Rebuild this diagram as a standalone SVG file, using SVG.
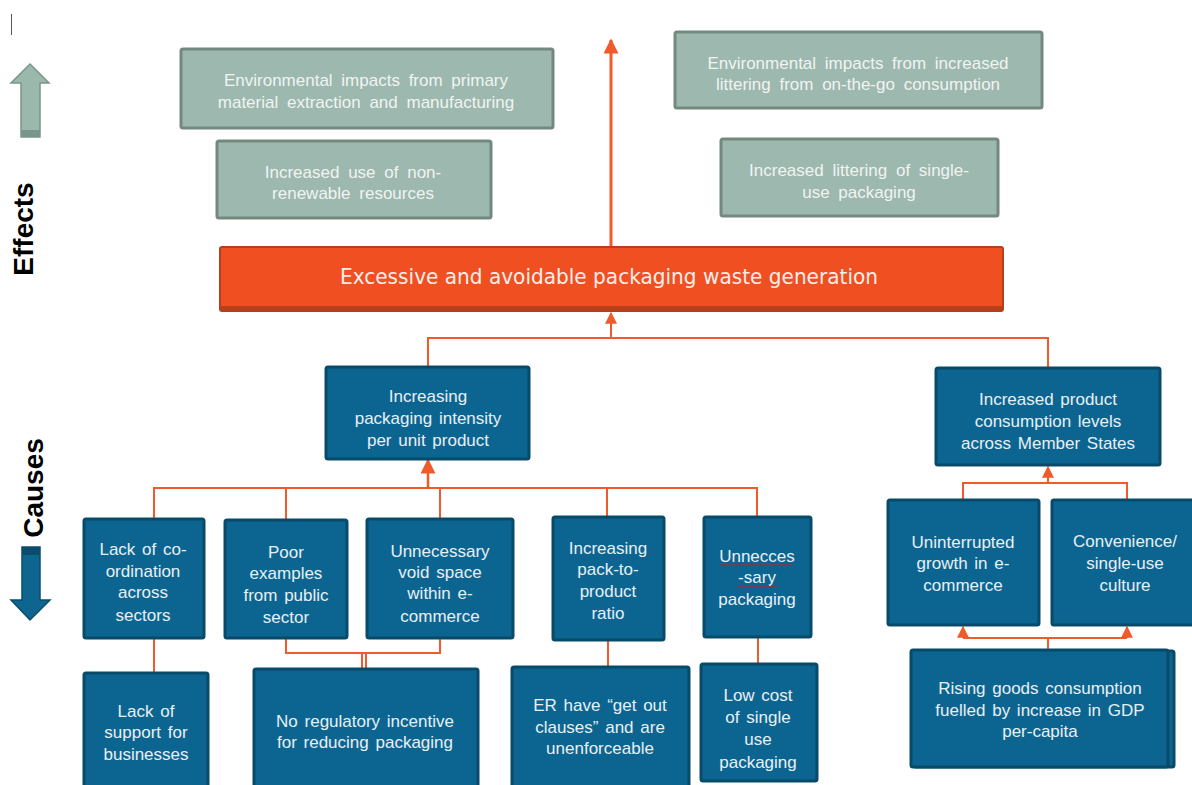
<svg xmlns="http://www.w3.org/2000/svg" width="1192" height="785" viewBox="0 0 1192 785">
<style>
.eff{fill:#9db8ae;stroke:#73897f;stroke-width:3}
.cau{fill:#0c6590;stroke:#084a69;stroke-width:3}
.main{fill:#f04f22;stroke:#b63f1c;stroke-width:2}
.t{font-family:"Liberation Sans",Arial,sans-serif;font-size:17px;text-anchor:middle;word-spacing:2px}
.tg{fill:#f0f4f2;word-spacing:4px}
.tb{fill:#e8f0f5}
.lbl{font-family:"Liberation Sans",Arial,sans-serif;font-size:28px;font-weight:bold;fill:#000;text-anchor:middle}
.con{fill:none;stroke:#f15a2b;stroke-width:2}
.sq{fill:none;stroke:#d01818;stroke-width:1}
</style>
<defs>
<marker id="ah" viewBox="0 0 10 10" refX="9" refY="5" markerWidth="6" markerHeight="6" orient="auto" markerUnits="strokeWidth">
<path d="M0,0 L10,5 L0,10 z" fill="#f15a2b"/>
</marker>
<marker id="ahb" viewBox="0 0 10 10" refX="9" refY="5" markerWidth="5" markerHeight="5" orient="auto" markerUnits="strokeWidth">
<path d="M0,0 L10,5 L0,10 z" fill="#f15a2b"/>
</marker>
</defs>
<rect width="1192" height="785" fill="#fff"/>
<line x1="11.5" y1="14" x2="11.5" y2="35" stroke="#555" stroke-width="1"/>

<g id="effects-label">
<path d="M30,64 L49,83 L40,83 L40,137 L21,137 L21,83 L11,83 z" fill="#9ab8ac" stroke="#7a958b" stroke-width="1.5"/>
<rect x="21" y="130" width="19" height="7" fill="#7a958b"/>
<text class="lbl" transform="translate(33,229) rotate(-90)">Effects</text>
</g>
<g id="causes-label">
<path d="M22,547 L40,547 L40,600 L50,600 L30,620 L11,600 L22,600 z" fill="#0e6690" stroke="#0a4c6c" stroke-width="1.5"/>
<rect x="22" y="547" width="18" height="8" fill="#0a4c6c"/>
<text class="lbl" transform="translate(43,488) rotate(-90)">Causes</text>
</g>

<g id="connectors">
<line class="con" x1="611" y1="246" x2="611" y2="40" style="stroke-width:3" marker-end="url(#ahb)"/>
<polyline class="con" points="428,366 428,338 1048,338 1048,368"/>
<line class="con" x1="611" y1="338" x2="611" y2="313" marker-end="url(#ah)"/>
<polyline class="con" points="154,518 154,488 757,488 757,516"/>
<line class="con" x1="286" y1="488" x2="286" y2="520"/>
<line class="con" x1="440" y1="488" x2="440" y2="518"/>
<line class="con" x1="607" y1="488" x2="607" y2="516"/>
<line class="con" x1="428" y1="488" x2="428" y2="460" style="stroke-width:2.5" marker-end="url(#ah)"/>
<line class="con" x1="154" y1="638" x2="154" y2="672"/>
<polyline class="con" points="286,638 286,653 440,653 440,638"/>
<line class="con" x1="362" y1="653" x2="362" y2="668"/>
<line class="con" x1="366" y1="653" x2="366" y2="668"/>
<line class="con" x1="608" y1="641" x2="608" y2="666"/>
<line class="con" x1="758" y1="637" x2="758" y2="663"/>
<polyline class="con" points="963,499 963,483 1127,483 1127,499"/>
<line class="con" x1="1048" y1="483" x2="1048" y2="467" marker-end="url(#ah)"/>
<line class="con" x1="1048" y1="650" x2="1048" y2="638"/>
<line class="con" x1="963" y1="638" x2="1127" y2="638"/>
<line class="con" x1="963" y1="638" x2="963" y2="627" marker-end="url(#ah)"/>
<line class="con" x1="1127" y1="638" x2="1127" y2="627" marker-end="url(#ah)"/>
</g>

<g id="e1">
<rect class="eff" x="181" y="49" width="372" height="79" rx="2"/>
<text class="t tg" x="366" y="86">Environmental impacts from primary</text>
<text class="t tg" x="366" y="108">material extraction and manufacturing</text>
</g>
<g id="e2">
<rect class="eff" x="217" y="141" width="274" height="77" rx="2"/>
<text class="t tg" x="353" y="178">Increased use of non-</text>
<text class="t tg" x="353" y="199">renewable resources</text>
</g>
<g id="e3">
<rect class="eff" x="675" y="32" width="367" height="76" rx="2"/>
<text class="t tg" x="858" y="69">Environmental impacts from increased</text>
<text class="t tg" x="858" y="90">littering from on-the-go consumption</text>
</g>
<g id="e4">
<rect class="eff" x="721" y="139" width="277" height="77" rx="2"/>
<text class="t tg" x="859" y="176">Increased littering of single-</text>
<text class="t tg" x="859" y="198">use packaging</text>
</g>

<g id="main">
<rect class="main" x="220" y="247" width="783" height="64" rx="2"/>
<rect x="221" y="306" width="781" height="5" fill="#b63f1c"/>
<text x="609" y="284" font-family="'DejaVu Sans',sans-serif" font-size="21" fill="#fbeee8" text-anchor="middle" textLength="538" lengthAdjust="spacingAndGlyphs">Excessive and avoidable packaging waste generation</text>
</g>

<g id="c-intensity">
<rect class="cau" x="326" y="367" width="203" height="92" rx="2"/>
<text class="t tb" x="428" y="402">Increasing</text>
<text class="t tb" x="428" y="424">packaging intensity</text>
<text class="t tb" x="428" y="446">per unit product</text>
</g>
<g id="c-consumption">
<rect class="cau" x="936" y="368" width="224" height="97" rx="2"/>
<text class="t tb" x="1048" y="405">Increased product</text>
<text class="t tb" x="1048" y="427">consumption levels</text>
<text class="t tb" x="1048" y="449">across Member States</text>
</g>

<g id="c-coord">
<rect class="cau" x="84" y="519" width="120" height="119" rx="2"/>
<text class="t tb" x="143" y="555">Lack of co-</text>
<text class="t tb" x="143" y="577">ordination</text>
<text class="t tb" x="143" y="598">across</text>
<text class="t tb" x="143" y="621">sectors</text>
</g>
<g id="c-poor">
<rect class="cau" x="225" y="520" width="122" height="118" rx="2"/>
<text class="t tb" x="286" y="558">Poor</text>
<text class="t tb" x="286" y="579">examples</text>
<text class="t tb" x="286" y="601">from public</text>
<text class="t tb" x="286" y="623">sector</text>
</g>
<g id="c-void">
<rect class="cau" x="367" y="519" width="146" height="119" rx="2"/>
<text class="t tb" x="440" y="557">Unnecessary</text>
<text class="t tb" x="440" y="578">void space</text>
<text class="t tb" x="440" y="599">within e-</text>
<text class="t tb" x="440" y="622">commerce</text>
</g>
<g id="c-ratio">
<rect class="cau" x="553" y="517" width="111" height="123" rx="2"/>
<text class="t tb" x="608" y="554">Increasing</text>
<text class="t tb" x="608" y="575">pack-to-</text>
<text class="t tb" x="608" y="597">product</text>
<text class="t tb" x="608" y="619">ratio</text>
</g>
<g id="c-unnecessary">
<rect class="cau" x="704" y="517" width="107" height="120" rx="2"/>
<text class="t tb" x="757" y="562">Unnecces</text>
<text class="t tb" x="757" y="583">-sary</text>
<text class="t tb" x="757" y="605">packaging</text>
<path class="sq" d="M720,566 l2,-2 l2,2 l2,-2 l2,2 l2,-2 l2,2 l2,-2 l2,2 l2,-2 l2,2 l2,-2 l2,2 l2,-2 l2,2 l2,-2 l2,2 l2,-2 l2,2 l2,-2 l2,2 l2,-2 l2,2 l2,-2 l2,2 l2,-2 l2,2 l2,-2 l2,2 l2,-2 l2,2 l2,-2 l2,2 l2,-2 l2,2 l2,-2 l2,2"/>
<path class="sq" d="M738,587 l2,-2 l2,2 l2,-2 l2,2 l2,-2 l2,2 l2,-2 l2,2 l2,-2 l2,2 l2,-2 l2,2 l2,-2 l2,2 l2,-2 l2,2 l2,-2 l2,2 l2,-2 l2,2"/>
</g>
<g id="c-growth">
<rect class="cau" x="888" y="500" width="151" height="125" rx="2"/>
<text class="t tb" x="963" y="548">Uninterrupted</text>
<text class="t tb" x="963" y="569">growth in e-</text>
<text class="t tb" x="963" y="591">commerce</text>
</g>
<g id="c-convenience">
<rect class="cau" x="1052" y="500" width="145" height="125" rx="2"/>
<text class="t tb" x="1125" y="547">Convenience/</text>
<text class="t tb" x="1125" y="569">single-use</text>
<text class="t tb" x="1125" y="591">culture</text>
</g>
<g id="c-support">
<rect class="cau" x="84" y="673" width="124" height="120" rx="2"/>
<text class="t tb" x="146" y="717">Lack of</text>
<text class="t tb" x="146" y="738">support for</text>
<text class="t tb" x="146" y="760">businesses</text>
</g>
<g id="c-regulatory">
<rect class="cau" x="254" y="669" width="224" height="124" rx="2"/>
<text class="t tb" x="365" y="727">No regulatory incentive</text>
<text class="t tb" x="365" y="748">for reducing packaging</text>
</g>
<g id="c-er">
<rect class="cau" x="512" y="667" width="177" height="126" rx="2"/>
<text class="t tb" x="600" y="711">ER have “get out</text>
<text class="t tb" x="600" y="733">clauses” and are</text>
<text class="t tb" x="600" y="754">unenforceable</text>
</g>
<g id="c-lowcost">
<rect class="cau" x="701" y="664" width="116" height="117" rx="2"/>
<text class="t tb" x="758" y="701">Low cost</text>
<text class="t tb" x="758" y="723">of single</text>
<text class="t tb" x="758" y="745">use</text>
<text class="t tb" x="758" y="768">packaging</text>
</g>
<g id="c-gdp">
<rect class="cau" x="914" y="651" width="260" height="116" rx="2"/>
<rect class="cau" x="911" y="650" width="257" height="117" rx="2"/>
<text class="t tb" x="1040" y="694">Rising goods consumption</text>
<text class="t tb" x="1040" y="716">fuelled by increase in GDP</text>
<text class="t tb" x="1040" y="737">per-capita</text>
</g>
</svg>
